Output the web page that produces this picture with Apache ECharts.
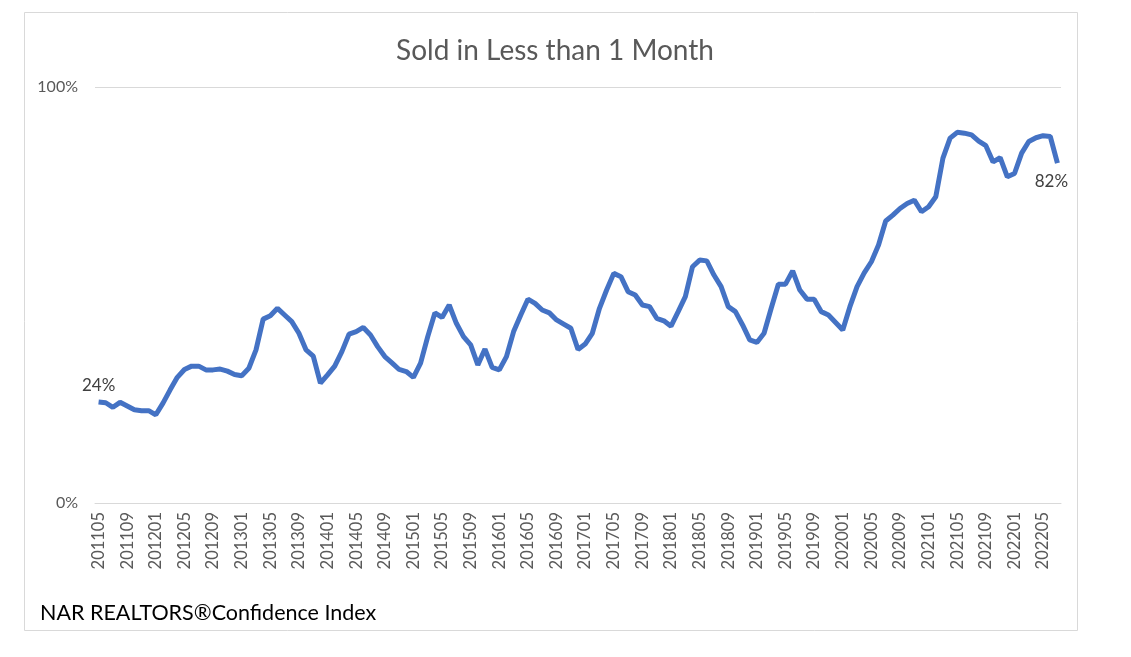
<!DOCTYPE html>
<html>
<head>
<meta charset="utf-8">
<script src="https://cdn.jsdelivr.net/npm/echarts@6/dist/echarts.min.js"></script>
<style>
html,body{margin:0;padding:0;background:#fff;}
#chart{width:1131px;height:657px;}
</style>
</head>
<body>
<div id="chart"></div>
<script>
var months = [
"201105","201106","201107","201108","201109","201110","201111","201112",
"201201","201202","201203","201204","201205","201206","201207","201208","201209","201210","201211","201212",
"201301","201302","201303","201304","201305","201306","201307","201308","201309","201310","201311","201312",
"201401","201402","201403","201404","201405","201406","201407","201408","201409","201410","201411","201412",
"201501","201502","201503","201504","201505","201506","201507","201508","201509","201510","201511","201512",
"201601","201602","201603","201604","201605","201606","201607","201608","201609","201610","201611","201612",
"201701","201702","201703","201704","201705","201706","201707","201708","201709","201710","201711","201712",
"201801","201802","201803","201804","201805","201806","201807","201808","201809","201810","201811","201812",
"201901","201902","201903","201904","201905","201906","201907","201908","201909","201910","201911","201912",
"202001","202002","202003","202004","202005","202006","202007","202008","202009","202010","202011","202012",
"202101","202102","202103","202104","202105","202106","202107","202108","202109","202110","202111","202112",
"202201","202202","202203","202204","202205","202206","202207"
];
var soldLessThan1Month = [
24.3,24.1,23.0,24.2,23.3,22.4,22.2,22.2,
21.2,24.0,27.2,30.2,32.1,32.9,32.9,32.0,32.0,32.2,31.7,30.9,
30.6,32.4,36.8,44.2,45.0,46.8,45.2,43.6,40.8,36.8,35.3,28.8,
30.8,32.9,36.4,40.6,41.2,42.2,40.4,37.6,35.2,33.7,32.1,31.6,
30.2,33.6,40.0,45.7,44.6,47.6,43.2,40.0,38.0,33.2,37.0,32.6,
32.0,35.2,41.2,45.2,49.0,48.0,46.4,45.7,44.0,43.0,42.0,36.9,
38.2,40.8,46.8,51.2,55.2,54.4,50.8,50.0,47.6,47.2,44.4,43.8,
42.5,46.0,49.6,56.8,58.4,58.2,54.8,52.0,47.2,46.0,42.8,39.2,
38.6,40.8,46.8,52.6,52.6,55.8,51.2,49.0,49.0,46.0,45.2,43.4,
41.6,47.2,52.0,55.3,58.0,62.0,67.8,69.2,70.8,72.0,72.8,70.0,
71.2,73.6,82.9,87.7,89.1,88.9,88.5,87.0,85.9,82.0,83.0,78.4,
79.2,84.1,86.9,87.8,88.3,88.1,81.7
];
var titleText = "Sold in Less than 1 Month";
var footerText = "NAR REALTORS\u00AEConfidence Index";

var FONT = "Lato";
var last = soldLessThan1Month.length - 1;
var seriesData = soldLessThan1Month.map(function (v, i) {
  if (i === 0) {
    return { value: v, label: { show: true, position: "top", distance: 8 } };
  }
  if (i === last) {
    return { value: v, label: { show: true, position: "bottom", distance: 10, offset: [-6, 0] } };
  }
  return v;
});

var chart = echarts.init(document.getElementById("chart"));
chart.setOption({
  animation: false,
  backgroundColor: "#ffffff",
  title: {
    text: titleText,
    left: 550, top: 32, textAlign: "center",
    textStyle: { fontFamily: FONT, fontSize: 28, fontWeight: "normal", color: "#595959" }
  },
  graphic: [
    { type: "rect", shape: { x: 24.5, y: 12.5, width: 1053, height: 618 },
      style: { fill: "none", stroke: "#d9d9d9", lineWidth: 1 }, z: -1 },
    { type: "text", left: 40, top: 602,
      style: { text: footerText, fontFamily: FONT, fontSize: 21.5, fill: "#000000" } }
  ],
  grid: { left: 95, right: 70, top: 87, bottom: 154, containLabel: false },
  xAxis: {
    type: "category",
    data: months,
    boundaryGap: true,
    axisTick: { show: false },
    axisLine: { lineStyle: { color: "#d9d9d9", width: 1 } },
    axisLabel: {
      interval: 3, rotate: 90, margin: 9,
      fontFamily: FONT, fontSize: 16.5, color: "#595959"
    }
  },
  yAxis: {
    type: "value",
    min: 0, max: 100, interval: 100,
    axisLine: { show: false },
    axisTick: { show: false },
    splitLine: { lineStyle: { color: "#d9d9d9", width: 1 } },
    axisLabel: { formatter: "{value}%", margin: 17, fontFamily: FONT, fontSize: 16, color: "#595959" }
  },
  series: [{
    type: "line",
    data: seriesData,
    showSymbol: true,
    showAllSymbol: true,
    symbol: "circle",
    symbolSize: 0,
    lineStyle: { color: "#4472C4", width: 5 },
    itemStyle: { color: "#4472C4" },
    label: {
      show: false,
      fontFamily: FONT, fontSize: 17, color: "#404040",
      formatter: function (p) { return Math.round(p.value) + "%"; }
    }
  }]
});
</script>
</body>
</html>
